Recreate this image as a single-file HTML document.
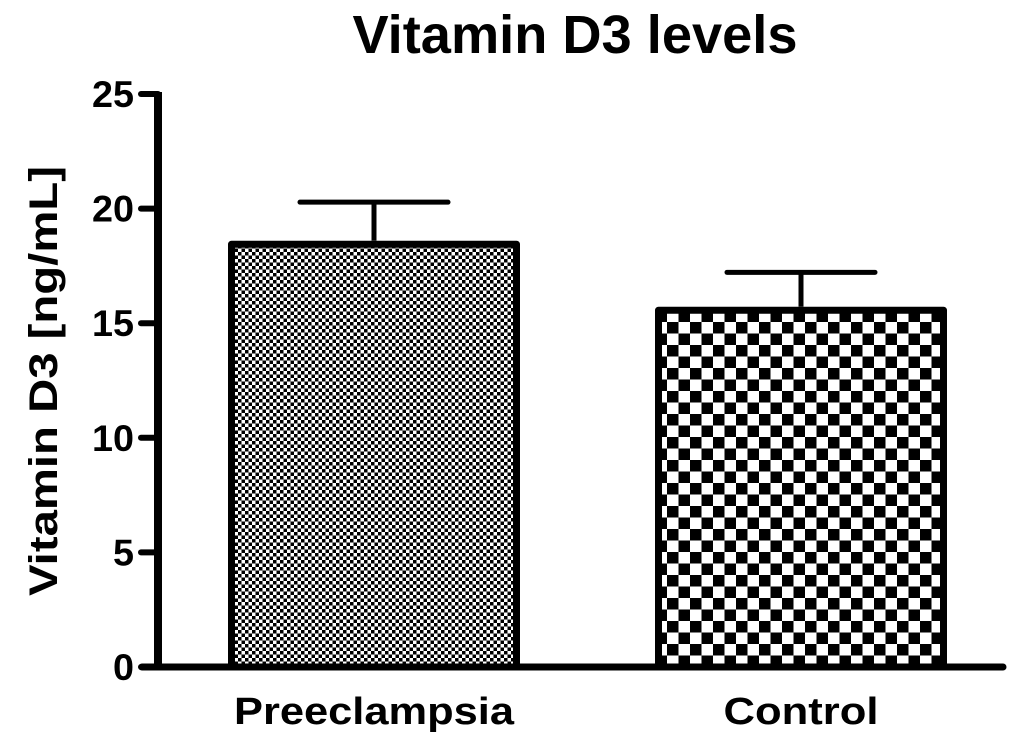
<!DOCTYPE html>
<html><head><meta charset="utf-8"><style>
html,body{margin:0;padding:0;background:#fff;width:1024px;height:740px;overflow:hidden}
text{font-family:"Liberation Sans",sans-serif;font-weight:bold;fill:#000}
</style></head><body>
<svg id="chart" width="1024" height="740" viewBox="0 0 1024 740">
<defs>
<pattern id="dots" width="7" height="7" patternUnits="userSpaceOnUse">
<rect width="7" height="7" fill="#fff"/><rect x="0" y="0" width="3.5" height="3.5" fill="#000"/><rect x="3.5" y="3.5" width="3.5" height="3.5" fill="#000"/>
</pattern>
<pattern id="checks" width="23" height="23" patternUnits="userSpaceOnUse">
<rect width="23" height="23" fill="#fff"/><rect x="0" y="0" width="11.5" height="11.5" fill="#000"/><rect x="11.5" y="11.5" width="11.5" height="11.5" fill="#000"/>
</pattern>
</defs>
<text x="575" y="53" font-size="54" text-anchor="middle" textLength="445" lengthAdjust="spacingAndGlyphs">Vitamin D3 levels</text>
<text transform="translate(57,381) rotate(-90)" font-size="40" text-anchor="middle" textLength="430" lengthAdjust="spacingAndGlyphs">Vitamin D3 [ng/mL]</text>
<g id="plot"></g>
</svg>
<script>
const categories = ["Preeclampsia", "Control"];
const means = [18.6, 15.72];
const errors = [1.68, 1.5];
const yTicks = [0, 5, 10, 15, 20, 25];
const patterns = ["url(#dots)", "url(#checks)"];

const y0 = 667, yTop = 94, yMax = 25;
const y = v => y0 - (v / yMax) * (y0 - yTop);
const barLeft = [228, 655], barW = 292;
const labelW = [280, 155];
const ns = "http://www.w3.org/2000/svg";
const g = document.getElementById('plot');
function mk(tag, attrs){const e=document.createElementNS(ns,tag);for(const k in attrs)e.setAttribute(k,attrs[k]);g.appendChild(e);return e;}

categories.forEach((c,i)=>{
  const x = barLeft[i], cx = x + barW/2;
  const eb = mk('line',{x1:cx,x2:cx,y1:y(means[i]),y2:y(means[i]+errors[i]),stroke:'#000','stroke-width':5});
  
  
  const cap = mk('line',{x1:cx-74,x2:cx+74,y1:y(means[i]+errors[i]),y2:y(means[i]+errors[i]),stroke:'#000','stroke-width':5,'stroke-linecap':'round'});
  
  
  const b = mk('rect',{x:x+3.5,y:y(means[i])+3.5,width:barW-7,height:y0-y(means[i])-3.5,fill:patterns[i],stroke:'#000','stroke-width':7,'stroke-linejoin':'round'});
  
  
  const t = mk('text',{x:cx,y:724,'font-size':38,'text-anchor':'middle',textLength:labelW[i],lengthAdjust:'spacingAndGlyphs'});
  t.textContent = c;
  
  
});

const ya = mk('line',{x1:158,x2:158,y1:y(yMax)-2,y2:y0+3.5,stroke:'#000','stroke-width':8});


const xa = mk('line',{x1:142,x2:1003,y1:y0,y2:y0,stroke:'#000','stroke-width':7,'stroke-linecap':'round'});


yTicks.forEach(v=>{
  const tk = mk('line',{x1:141,x2:158,y1:y(v),y2:y(v),stroke:'#000','stroke-width':6,'stroke-linecap':'round'});
  
  
  const s = String(v);
  const t = mk('text',{x:134,y:y(v)+13,'font-size':37,'text-anchor':'end',textLength:s.length*21,lengthAdjust:'spacingAndGlyphs'});
  t.textContent = s;
  
  
});
</script>
</body></html>
